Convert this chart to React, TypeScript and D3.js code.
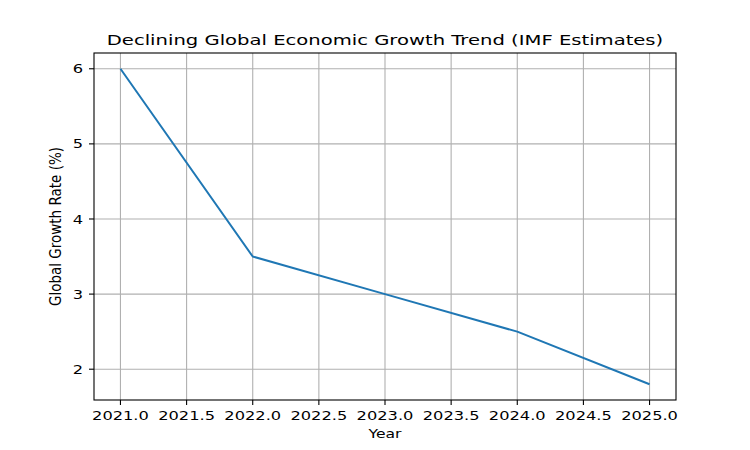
import * as d3 from 'd3';

const years = [2021, 2022, 2023, 2024, 2025];
const growth = [6.0, 3.5, 3.0, 2.5, 1.8];
const xTicks = [2021.0, 2021.5, 2022.0, 2022.5, 2023.0, 2023.5, 2024.0, 2024.5, 2025.0];
const yTicks = [2, 3, 4, 5, 6];

const App = () => {
  const width = 750;
  const height = 450;
  const left = 94;
  const right = 676;
  const top = 53;
  const bottom = 400;

  const x = d3.scaleLinear().domain([2020.8, 2025.2]).range([left, right]);
  const y = d3.scaleLinear().domain([1.59, 6.21]).range([bottom, top]);

  const line = d3
    .line<number>()
    .x((d, i) => x(years[i]))
    .y((d) => y(d));

  const font = 'DejaVu Sans, sans-serif';
  // the reference text is stretched sideways
  const sx = 1.3;

  return (
    <svg
      width={width}
      height={height}
      style={{ position: 'absolute', left: 0, top: 0, background: '#fff' }}
      fontFamily={font}
    >
      <rect x={0} y={0} width={width} height={height} fill="#fff" />
      {xTicks.map((t) => (
        <line key={'gx' + t} x1={x(t)} x2={x(t)} y1={top} y2={bottom} stroke="#b0b0b0" strokeWidth={1.1} />
      ))}
      {yTicks.map((t) => (
        <line key={'gy' + t} x1={left} x2={right} y1={y(t)} y2={y(t)} stroke="#b0b0b0" strokeWidth={1.1} />
      ))}
      <path d={line(growth) || ''} fill="none" stroke="#1f77b4" strokeWidth={2} strokeLinejoin="round" />
      <rect x={left} y={top} width={right - left} height={bottom - top} fill="none" stroke="#000" strokeWidth={1.1} />
      {xTicks.map((t) => (
        <g key={'tx' + t}>
          <line x1={x(t)} x2={x(t)} y1={bottom} y2={bottom + 5} stroke="#000" strokeWidth={1.1} />
          <text
            transform={`translate(${x(t)},${420}) scale(${sx},1)`}
            textAnchor="middle"
            fontSize={12.5}
            fill="#000"
          >
            {t.toFixed(1)}
          </text>
        </g>
      ))}
      {yTicks.map((t) => (
        <g key={'ty' + t}>
          <line x1={left - 5} x2={left} y1={y(t)} y2={y(t)} stroke="#000" strokeWidth={1.1} />
          <text
            transform={`translate(${left - 11},${y(t) + 4.6}) scale(${sx},1)`}
            textAnchor="end"
            fontSize={12.5}
            fill="#000"
          >
            {t}
          </text>
        </g>
      ))}
      <text transform={`translate(${(left + right) / 2},438) scale(${sx},1)`} textAnchor="middle" fontSize={12} fill="#000">
        Year
      </text>
      <text
        transform={`translate(61,${(top + bottom) / 2}) rotate(-90)`}
        textAnchor="middle"
        fontSize={15}
        fontFamily="DejaVu Sans Condensed, DejaVu Sans, sans-serif"
        fontStretch="condensed"
        fill="#000"
      >
        Global Growth Rate (%)
      </text>
      <text transform={`translate(${(left + right) / 2},45) scale(1.4,1)`} textAnchor="middle" fontSize={14} fill="#000">
        Declining Global Economic Growth Trend (IMF Estimates)
      </text>
    </svg>
  );
};

export default App;
